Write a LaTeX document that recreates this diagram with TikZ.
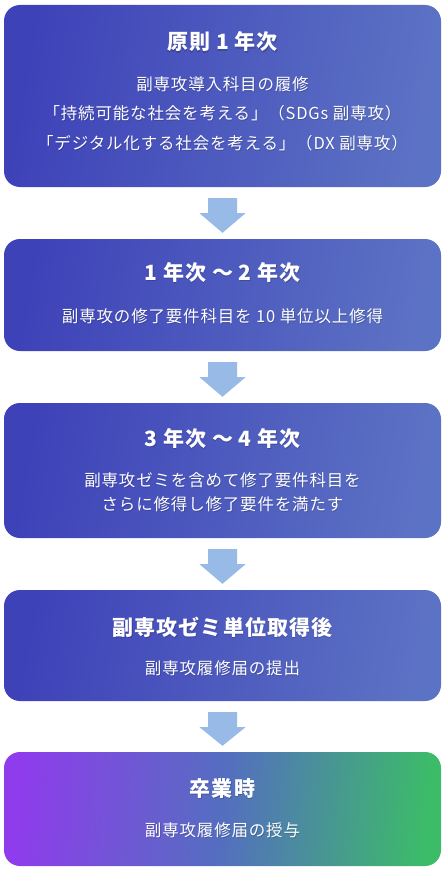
\documentclass[tikz,border=0pt]{standalone}
\usepackage{fontspec}
\setmainfont{Noto Sans CJK JP}
\newfontfamily\jpfont[LetterSpace=5]{Noto Sans CJK JP}
\usetikzlibrary{calc}
\definecolor{boxL}{RGB}{62,66,184}
\definecolor{boxR}{RGB}{92,114,196}
\definecolor{gradP}{RGB}{143,60,236}
\definecolor{gradM}{RGB}{84,110,192}
\definecolor{gradG}{RGB}{60,188,104}
\definecolor{arrowc}{RGB}{152,186,230}
\tikzset{
  stagebox/.style={minimum width=437pt, rounded corners=16pt, inner sep=0pt,
    left color=boxL, right color=boxR, shading angle=80},
  finalbox/.style={minimum width=437pt, rounded corners=16pt, inner sep=0pt,
    left color=gradP, right color=gradG, middle color=gradM, shading angle=85},
  titletext/.style={text=white, inner sep=0pt, font=\jpfont\bfseries\fontsize{21}{25}\selectfont},
  bodytext/.style={text=white, inner sep=0pt, font=\jpfont\fontsize{16.5}{20}\selectfont},
  shadowtext/.style={text=black, opacity=0.18},
  flowarrow/.style={fill=arrowc}
}
\newcommand\shtext[4]{%
  \node[#2, shadowtext] (#1-sh) at ($(#3)+(0.6,1.2)$) {#4};
  \node[#2] (#1) at (#3) {#4};}
\newcommand\flowarr[2]{%
  \fill[flowarrow] ($(#1.south)+(-14.5,11)$) -- ($(#1.south)+(14.5,11)$)
    -- ($(#1.south)+(14.5,26)$) -- ($(#1.south)+(23,26)$)
    -- ($(#2.north)+(0,-6)$) -- ($(#1.south)+(-23,26)$)
    -- ($(#1.south)+(-14.5,26)$) -- cycle;}
\begin{document}
\begin{tikzpicture}[x=1pt,y=-1pt]
\useasboundingbox (0,0) rectangle (445,875);
\fill[white] (0,0) rectangle (445,875);
% boxes
\node[stagebox, minimum height=182pt] (b1) at (222.5,96) {};
\node[stagebox, minimum height=112pt] (b2) at (222.5,295) {};
\node[stagebox, minimum height=135pt] (b3) at (222.5,470.5) {};
\node[stagebox, minimum height=111pt] (b4) at (222.5,645.5) {};
\node[finalbox, minimum height=114pt] (b5) at (222.5,809) {};
% arrows
\flowarr{b1}{b2}
\flowarr{b2}{b3}
\flowarr{b3}{b4}
\flowarr{b4}{b5}
% texts
\shtext{t1}{titletext}{222.5,42}{原則 1 年次}
\shtext{t1a}{bodytext}{222.5,84}{副専攻導入科目の履修}
\shtext{t1b}{bodytext}{222.5,113.5}{「持続可能な社会を考える」（SDGs 副専攻）}
\shtext{t1c}{bodytext}{222.5,143}{「デジタル化する社会を考える」（DX 副専攻）}
\shtext{t2}{titletext}{222.5,272}{1 年次 ～ 2 年次}
\shtext{t2a}{bodytext}{222.5,316}{副専攻の修了要件科目を 10 単位以上修得}
\shtext{t3}{titletext}{222.5,438}{3 年次 ～ 4 年次}
\shtext{t3a}{bodytext}{222.5,480}{副専攻ゼミを含めて修了要件科目を}
\shtext{t3b}{bodytext}{222.5,504}{さらに修得し修了要件を満たす}
\shtext{t4}{titletext}{222.5,627}{副専攻ゼミ単位取得後}
\shtext{t4a}{bodytext}{222.5,668}{副専攻履修届の提出}
\shtext{t5}{titletext}{222.5,788}{卒業時}
\shtext{t5a}{bodytext}{222.5,830}{副専攻履修届の授与}
\end{tikzpicture}
\end{document}
